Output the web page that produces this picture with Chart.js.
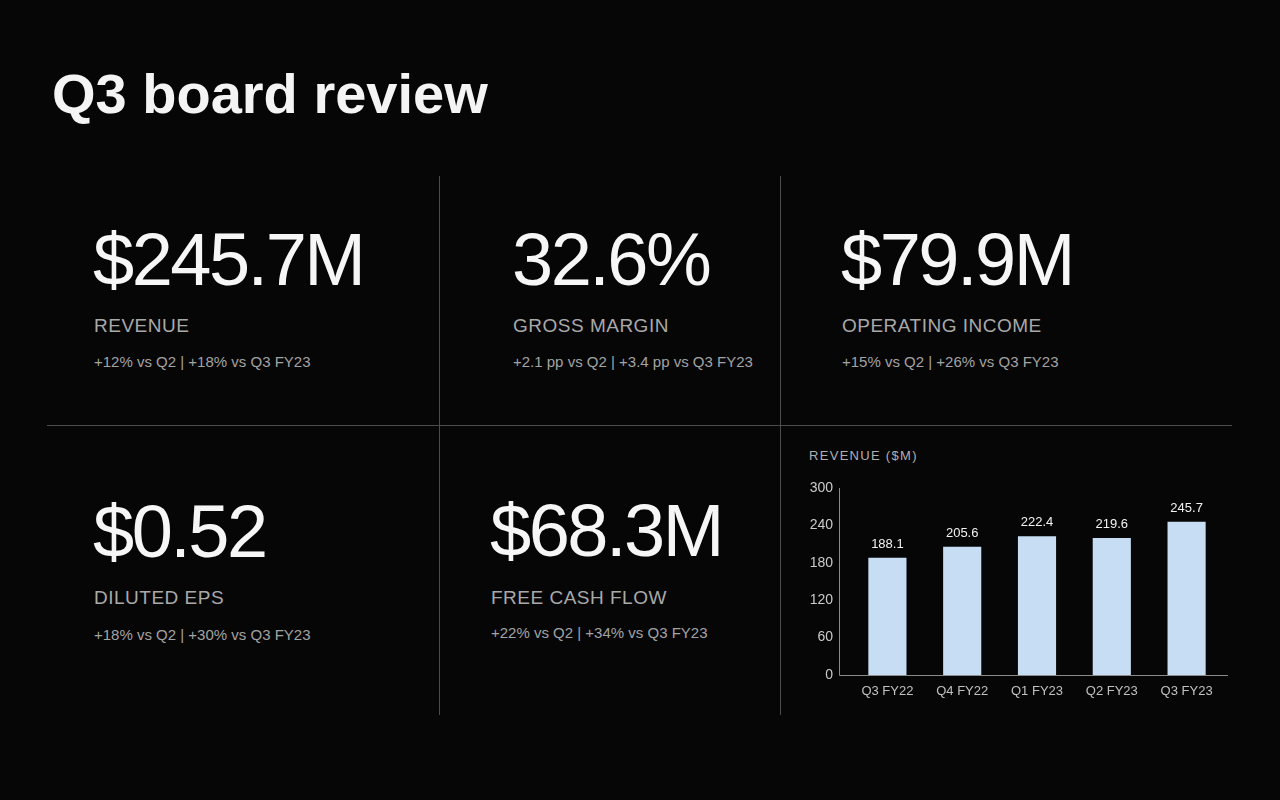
<!DOCTYPE html>
<html lang="en">
<head>
<meta charset="UTF-8">
<title>Q3 board review</title>
<script src="https://cdn.jsdelivr.net/npm/chart.js"></script>
<style>
  html, body { margin: 0; padding: 0; background: #060606; }
  body { width: 1280px; height: 800px; position: relative; overflow: hidden;
         font-family: "Liberation Sans", Arial, Helvetica, sans-serif; }
  .t { position: absolute; white-space: nowrap; line-height: 1; }
  .title { font-size: 56px; font-weight: bold; color: #f4f4f4; left: 52px; top: 66px; }
  .big { font-size: 74px; color: #f6f6f6; letter-spacing: -2.5px; }
  .lbl { font-size: 19px; color: #a9a9a9; letter-spacing: 0.5px; }
  .sub { font-size: 15px; color: #a3a3a3; }
  .vline { position: absolute; width: 1px; background: #4c4c4c; top: 176px; height: 539px; }
  .hline { position: absolute; height: 1px; background: #4c4c4c; left: 47px; width: 1185px; top: 425px; }
  .ctitle { font-size: 13px; color: #b0b0b0; letter-spacing: 1.3px; left: 809px; top: 449px; }
  #wrap { position: absolute; left: 790px; top: 470px; width: 450px; height: 240px; }
</style>
</head>
<body>
  <div class="t title">Q3 board review</div>

  <div class="vline" style="left:439px"></div>
  <div class="vline" style="left:780px"></div>
  <div class="hline"></div>

  <!-- row 1 -->
  <div class="t big" style="left:93px; top:223px">$245.7M</div>
  <div class="t lbl" style="left:94px; top:316px">REVENUE</div>
  <div class="t sub" style="left:94px; top:354px">+12% vs Q2 | +18% vs Q3 FY23</div>

  <div class="t big" style="left:512px; top:223px">32.6%</div>
  <div class="t lbl" style="left:513px; top:316px">GROSS MARGIN</div>
  <div class="t sub" style="left:513px; top:354px">+2.1 pp vs Q2 | +3.4 pp vs Q3 FY23</div>

  <div class="t big" style="left:841px; top:223px">$79.9M</div>
  <div class="t lbl" style="left:842px; top:316px">OPERATING INCOME</div>
  <div class="t sub" style="left:842px; top:354px">+15% vs Q2 | +26% vs Q3 FY23</div>

  <!-- row 2 -->
  <div class="t big" style="left:93px; top:495px">$0.52</div>
  <div class="t lbl" style="left:94px; top:588px">DILUTED EPS</div>
  <div class="t sub" style="left:94px; top:627px">+18% vs Q2 | +30% vs Q3 FY23</div>

  <div class="t big" style="left:490px; top:494px">$68.3M</div>
  <div class="t lbl" style="left:491px; top:588px">FREE CASH FLOW</div>
  <div class="t sub" style="left:491px; top:625px">+22% vs Q2 | +34% vs Q3 FY23</div>

  <div class="t ctitle">REVENUE ($M)</div>
  <div id="wrap"><canvas id="revChart"></canvas></div>

<script>
  // revenue by quarter, $M
  const quarters = ['Q3 FY22', 'Q4 FY22', 'Q1 FY23', 'Q2 FY23', 'Q3 FY23'];
  const revenue = [188.1, 205.6, 222.4, 219.6, 245.7];
  const yMin = 0;
  const yMax = 300;
  const yStep = 60;

  // axis lines sit a bit left of the first bar, like the slide
  const axisLines = {
    id: 'axisLines',
    afterDraw(chart) {
      const ctx = chart.ctx;
      const a = chart.chartArea;
      const y = chart.scales.y;
      const x0 = a.left - 11;
      ctx.save();
      ctx.strokeStyle = '#8a8a8a';
      ctx.lineWidth = 1;
      ctx.beginPath();
      ctx.moveTo(x0 + 0.5, y.getPixelForValue(yMax));
      ctx.lineTo(x0 + 0.5, y.getPixelForValue(yMin) + 0.5);
      ctx.lineTo(a.right + 4, y.getPixelForValue(yMin) + 0.5);
      ctx.stroke();
      ctx.restore();
    }
  };

  const valueLabels = {
    id: 'valueLabels',
    afterDatasetsDraw(chart) {
      const ctx = chart.ctx;
      const meta = chart.getDatasetMeta(0);
      ctx.save();
      ctx.fillStyle = '#f2f2f2';
      ctx.font = '13px "Liberation Sans", Arial, sans-serif';
      ctx.textAlign = 'center';
      ctx.textBaseline = 'alphabetic';
      meta.data.forEach((bar, i) => {
        ctx.fillText(revenue[i].toFixed(1), bar.x, bar.y - 10);
      });
      ctx.restore();
    }
  };

  new Chart(document.getElementById('revChart'), {
    type: 'bar',
    data: {
      labels: quarters,
      datasets: [{
        data: revenue,
        backgroundColor: '#c6ddf3',
        barPercentage: 0.51,
        categoryPercentage: 1
      }]
    },
    options: {
      responsive: true,
      maintainAspectRatio: false,
      animation: false,
      layout: { padding: { left: 0, right: 16, top: 18, bottom: 0 } },
      plugins: { legend: { display: false }, tooltip: { enabled: false } },
      scales: {
        x: {
          grid: { display: false, drawTicks: false },
          border: { display: false },
          ticks: { color: '#c0c0c0', font: { size: 13, family: '"Liberation Sans", Arial, sans-serif' }, padding: 9, maxRotation: 0 },
          afterFit(s) { s.height = 35; }
        },
        y: {
          min: yMin,
          max: yMax,
          grid: { display: false, drawTicks: false },
          border: { display: false },
          ticks: { stepSize: yStep, color: '#cacaca', font: { size: 14, family: '"Liberation Sans", Arial, sans-serif' }, padding: 17 },
          afterFit(s) {
            s.width = 60;
            // tick padding is meant horizontally here, not above the top label
            s.paddingTop = 8;
            s.paddingBottom = 8;
          }
        }
      }
    },
    plugins: [axisLines, valueLabels]
  });
</script>
</body>
</html>
